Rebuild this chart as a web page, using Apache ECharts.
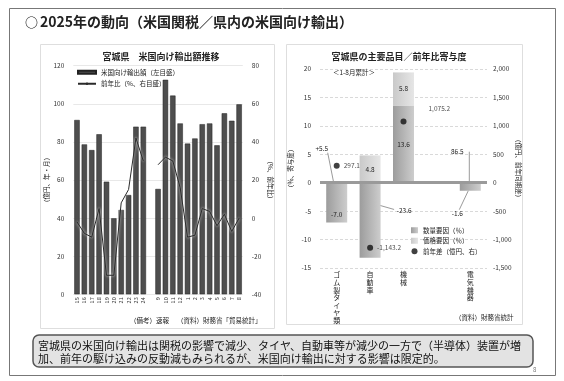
<!DOCTYPE html>
<html><head><meta charset="utf-8">
<script src="https://cdn.jsdelivr.net/npm/echarts@6/dist/echarts.min.js"></script>
<style>html,body{margin:0;padding:0;background:#fff}#c{width:564px;height:381px}</style>
</head><body><div id="c"></div>
<script>
// 宮城県の米国向け輸出額（年次：2015〜2024年、月次：2024年9月〜2025年8月）
const exportPeriods = ['15','16','17','18','19','20','21','22','23','24','','9','10','11','12','1','2','3','4','5','6','7','8'];
const exportValues = [91.5,78.7,75.7,84.0,59.1,39.9,44.3,52.1,88.0,88.0,null,55.3,112.6,104.3,89.7,79.1,81.8,89.3,89.7,78.2,95.0,91.1,99.7];
const exportYoY = [-2,-8,-10,5,-30,-30,8,15,42,30,null,28,32,30,16,-10,-9,5,3.5,-4,2,-7,0];

// 主要品目別（2025年1-8月）
const itemNames = ['ゴム製タイヤ類','自動車','機械','','電気機器'];
const volumeContrib = [-7.0,-13.2,13.6,null,-1.4];
const priceContrib = [null,4.8,5.8,null,null];
const diffAmount = [297.1,-1143.2,1075.2,null,null];
const itemYoY = [5.5,-23.6,null,null,-1.6];
const itemShare = [null,null,null,null,86.5];

const FONT = "'Noto Sans CJK JP','Noto Sans',sans-serif";
const INK = '#222';

const fmtSigned = v => (v > 0 ? '+' : '') + v.toFixed(1);
const fmtAmount = v => v.toLocaleString('en-US', {minimumFractionDigits: 1, maximumFractionDigits: 1});
const stack = s => s.split('').join('\n');

const barGrad = (a, b) => new echarts.graphic.LinearGradient(0, 0, 1, 0, [{offset: 0, color: a}, {offset: 1, color: b}]);

const volumeData = volumeContrib.map((v, i) => {
  if (v == null) return null;
  const item = {value: v};
  if (i === 0) item.label = {show: true, position: 'insideBottom'};
  if (i === 2) item.label = {show: true, position: 'inside'};
  return item;
});
const priceData = priceContrib.map(v => v == null ? null : {value: v, label: {show: true, position: 'inside'}});

const chart = echarts.init(document.getElementById('c'), null, {width: 564, height: 381});

const axisText = {fontSize: 6.5, color: '#333', fontFamily: FONT};

chart.setOption({
  animation: false,
  textStyle: {fontFamily: FONT},
  grid: [
    {left: 73.3, top: 65.7, width: 169.5, height: 228.6},
    {left: 320, top: 69, width: 167, height: 199}
  ],
  legend: [
    {
      data: [{name: '米国向け輸出額（左目盛）', icon: 'rect'}, {name: '前年比（%、右目盛）'}],
      orient: 'vertical', left: 77, top: 69, itemWidth: 18, itemHeight: 3, itemGap: 5,
      textStyle: {fontSize: 6.5, color: INK, fontFamily: FONT}, padding: 0
    },
    {
      data: [{name: '数量要因（％）', icon: 'rect'}, {name: '価格要因（％）', icon: 'rect'}, {name: '前年差（億円、右）', icon: 'circle'}],
      orient: 'vertical', left: 411, top: 227, itemWidth: 7, itemHeight: 6, itemGap: 4,
      textStyle: {fontSize: 6.5, color: INK, fontFamily: FONT}, padding: 0
    }
  ],
  xAxis: [
    {
      gridIndex: 0, type: 'category', data: exportPeriods,
      axisLine: {show: false}, axisTick: {show: false},
      axisLabel: {interval: 0, rotate: 90, fontSize: 5.5, margin: 3, color: '#333'}
    },
    {
      gridIndex: 1, type: 'category', data: itemNames,
      axisLine: {show: false}, axisTick: {show: false},
      axisLabel: {interval: 0, fontSize: 7, lineHeight: 7.6, margin: 3, color: INK, formatter: v => stack(v)}
    }
  ],
  yAxis: [
    {
      gridIndex: 0, min: 0, max: 120, interval: 20,
      axisLine: {show: false}, axisTick: {show: false},
      axisLabel: Object.assign({margin: 9}, axisText),
      splitLine: {lineStyle: {color: '#e2e2e2', width: 0.8}},
      name: '（億円、年・月）', nameLocation: 'middle', nameRotate: 90, nameGap: 23,
      nameTextStyle: {fontSize: 6.5, color: INK}
    },
    {
      gridIndex: 0, min: -40, max: 80, interval: 20, position: 'right',
      axisLine: {show: false}, axisTick: {show: false},
      axisLabel: Object.assign({margin: 9}, axisText),
      splitLine: {show: false},
      name: '（%、前年比）', nameLocation: 'middle', nameRotate: -90, nameGap: 24,
      nameTextStyle: {fontSize: 6.5, color: INK}
    },
    {
      gridIndex: 1, min: -15, max: 20, interval: 5,
      axisLine: {show: false}, axisTick: {show: false},
      axisLabel: Object.assign({margin: 9}, axisText),
      splitLine: {lineStyle: {color: '#cfcfcf', width: 0.8, type: [3, 2]}},
      name: '（％、寄与度）', nameLocation: 'middle', nameRotate: 90, nameGap: 26,
      nameTextStyle: {fontSize: 6.5, color: INK}
    },
    {
      gridIndex: 1, min: -1500, max: 2000, interval: 500, position: 'right',
      axisLine: {show: false}, axisTick: {show: false},
      axisLabel: Object.assign({margin: 6, formatter: v => v.toLocaleString('en-US')}, axisText),
      splitLine: {show: false},
      name: '（億円、前年同期差）', nameLocation: 'middle', nameRotate: -90, nameGap: 28,
      nameTextStyle: {fontSize: 6.5, color: INK}
    }
  ],
  series: [
    {
      name: '米国向け輸出額（左目盛）', type: 'bar', xAxisIndex: 0, yAxisIndex: 0,
      data: exportValues, barWidth: 5.4,
      itemStyle: {color: '#4e4e4e', borderColor: '#222', borderWidth: 0.5}
    },
    {
      name: '前年比（%、右目盛）', type: 'line', xAxisIndex: 0, yAxisIndex: 1,
      data: exportYoY, symbol: 'none', connectNulls: false,
      lineStyle: {color: '#2a2a2a', width: 1, shadowColor: '#ffffff', shadowBlur: 3},
      itemStyle: {color: '#2a2a2a'}, z: 3
    },
    {
      name: '数量要因（％）', type: 'bar', xAxisIndex: 1, yAxisIndex: 2, stack: 'contrib',
      data: volumeData, barWidth: 21,
      itemStyle: {color: barGrad('#9c9c9c', '#cdcdcd')},
      label: {show: false, fontSize: 6.5, color: INK, formatter: p => p.value.toFixed(1)},
      markLine: {
        silent: true, symbol: ['none', 'none'], label: {show: false},
        lineStyle: {color: '#9a9a9a', width: 3, type: 'solid'},
        data: [{yAxis: 0}]
      }
    },
    {
      name: '価格要因（％）', type: 'bar', xAxisIndex: 1, yAxisIndex: 2, stack: 'contrib',
      data: priceData, barWidth: 21,
      itemStyle: {color: barGrad('#c9c9c9', '#e6e6e6')},
      label: {show: false, fontSize: 6.5, color: INK, formatter: p => p.value.toFixed(1)}
    },
    {
      name: '前年差（億円、右）', type: 'scatter', xAxisIndex: 1, yAxisIndex: 3,
      data: diffAmount, symbol: 'circle', symbolSize: 6,
      itemStyle: {color: '#111'},
      label: {show: true, position: 'right', distance: 4, fontSize: 6.5, color: INK, formatter: p => fmtAmount(p.value)},
      labelLayout: p => p.dataIndex === 2 ? {dx: 18, dy: -13} : {},
      z: 4
    }
  ]
});

// 注記（品目別前年比）の吹出し位置
const calloutOffsets = {
  yoy: [{ax: -3, av: 0, tx: -12, ty: -34, lx: -6, ly: -30}, {ax: 10, av: -4, tx: 24, ty: 5, lx: 14, ly: 4}, null, null,
        {ax: -2, av: null, tx: -11, ty: 23, lx: -9, ly: 19}],
  share: [null, null, null, null, {ax: -1, av: 0, tx: -12, ty: -31, lx: 0, ly: -31}]
};

const toPx = (i, v) => chart.convertToPixel({xAxisIndex: 1, yAxisIndex: 2}, [i, v]);

const calloutEls = [];
const addCallout = (i, text, o, baseValue) => {
  const anchorVal = o.av == null ? baseValue : o.av;
  const p = toPx(i, anchorVal);
  const ax = p[0] + o.ax, ay = p[1];
  calloutEls.push({type: 'line', shape: {x1: ax, y1: ay, x2: ax + o.lx, y2: ay + o.ly}, style: {stroke: '#555', lineWidth: 0.6}, silent: true});
  calloutEls.push({type: 'text', x: ax + o.tx, y: ay + o.ty, style: {text, font: `6.5px ${FONT}`, fill: INK, align: 'center', verticalAlign: 'middle'}, silent: true});
};
itemYoY.forEach((v, i) => { if (v != null) addCallout(i, fmtSigned(v), calloutOffsets.yoy[i], volumeContrib[i]); });
itemShare.forEach((v, i) => { if (v != null) addCallout(i, v.toFixed(1), calloutOffsets.share[i], 0); });

const txt = (text, x, y, size, opts = {}) => ({
  type: 'text', x, y, silent: true,
  style: Object.assign({text, font: `${opts.weight || 'normal'} ${size}px ${FONT}`, fill: opts.fill || INK,
    align: opts.align || 'left', verticalAlign: 'middle'}, opts.style || {})
});

chart.setOption({
  graphic: [
    {type: 'rect', shape: {x: 9.5, y: 8.5, width: 546, height: 367}, style: {fill: 'none', stroke: '#777', lineWidth: 1}, silent: true, z: -10},
    txt('○', 25, 22, 13, {weight: 'bold'}),
    txt('2025年の動向（米国関税／県内の米国向け輸出）', 40, 22, 14, {weight: 'bold'}),
    {type: 'rect', shape: {x: 40.5, y: 44.5, width: 234, height: 284}, style: {fill: 'none', stroke: '#dedede', lineWidth: 1}, silent: true, z: -10},
    {type: 'rect', shape: {x: 286.5, y: 44.5, width: 236, height: 280}, style: {fill: 'none', stroke: '#dedede', lineWidth: 1}, silent: true, z: -10},
    txt('宮城県　米国向け輸出額推移', 161, 57, 9, {weight: 'bold', align: 'center'}),
    txt('宮城県の主要品目／前年比寄与度', 399, 57, 9, {weight: 'bold', align: 'center'}),
    txt('＜1-8月累計＞', 333, 73, 6.5),
    txt('（備考）速報', 130, 321, 6.5),
    txt('（資料）財務省「貿易統計」', 177, 321, 6.5),
    txt('（資料）財務省統計', 455, 318, 6.5),
    {type: 'rect', shape: {x: 33, y: 335, width: 500, height: 32, r: 6}, style: {fill: '#e3e3e3', stroke: '#555', lineWidth: 1.5}, silent: true},
    txt('宮城県の米国向け輸出は関税の影響で減少、タイヤ、自動車等が減少の一方で（半導体）装置が増', 38, 345.5, 11, {fill: '#111'}),
    txt('加、前年の駆け込みの反動減もみられるが、米国向け輸出に対する影響は限定的。', 38, 358.5, 11, {fill: '#111'}),
    txt('8', 533, 370, 6, {fill: '#777'})
  ].concat(calloutEls)
});
</script>
</body></html>
